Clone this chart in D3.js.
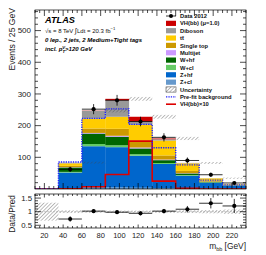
<!DOCTYPE html>
<html>
<head>
<meta charset="utf-8">
<script src="https://cdn.jsdelivr.net/npm/d3@7"></script>
<style>
  body { margin: 0; background: #fff; }
  svg text { font-family: "Liberation Sans", Arial, sans-serif; }
</style>
</head>
<body>
<svg id="chart" width="266" height="255"></svg>
<script>
// bins of 25 GeV, low edges
var binLow = [10, 35, 60, 85, 110, 135, 160, 185, 210];
var binWidth = 25;

// stacked backgrounds (events per bin), bottom to top
var zcl     = [0, 2,   5,   5,   4,   3,   2,  1,   0.5];
var zhf     = [0, 50,  130, 127, 101, 76,  40, 19,  10];
var wcl     = [0, 2,   7,   6,   5,   3,   2,  1,   0.5];
var whf     = [0, 14,  33,  27,  18,  9,   5,  2,   1];
var multijet= [0, 1,   2,   3,   3,   2,   1,  0.5, 0.3];
var stop    = [0, 4,   14,  22,  22,  13,  7,  2,   1];
var ttbar   = [0, 8,   31,  38,  50,  47,  24, 8,   2];
var diboson = [0, 2,   25,  52,  10,  4,   1,  0.5, 0.2];
var vh      = [0, 0.1, 0.7, 4.6, 15,  2.5, 0.2, 0,  0];
var uncert  = [0, 3,   6,   6,   6,   5,   3,  2,   1.5];

var prefit  = [0, 85,  223, 253, 204, 130, 76, 28,  13];
var vhx10   = [0, 0.5, 7,   46,  151, 25,  2,  0,   0];

var data    = [null, 62, 252, 280, 213, 163, 90, 45, 19];
var dataErr = [null, 8,  16,  17,  15,  13,  9.5, 6.7, 4.4];

var ratio     = [null, 0.73, 1.02, 0.98, 0.94, 1.02, 1.09, 1.31, 1.21];
var ratioErr  = [null, 0.1,  0.07, 0.06, 0.07, 0.08, 0.12, 0.19, 0.26];
var ratioBand = [0.33, 0.05, 0.04, 0.04, 0.04, 0.04, 0.05, 0.06, 0.08];

var xTicks = [20, 40, 60, 80, 100, 120, 140, 160, 180, 200, 220];
var yTicks = [100, 200, 300, 400, 500];
var rTicks = [0.5, 1, 1.5];

var layers = [
  {key: "zcl", name: "Z+cl", color: "#6699cc", values: zcl},
  {key: "zhf", name: "Z+hf", color: "#0066cc", values: zhf},
  {key: "wcl", name: "W+cl", color: "#66cc66", values: wcl},
  {key: "whf", name: "W+hf", color: "#006600", values: whf},
  {key: "mj",  name: "Multijet", color: "#cc99ff", values: multijet},
  {key: "stop", name: "Single top", color: "#cc9900", values: stop},
  {key: "tt",  name: "t\u0074\u0304", color: "#ffcc00", values: ttbar},
  {key: "db",  name: "Diboson", color: "#999999", values: diboson},
  {key: "vh",  name: "VH(bb) (\u03bc=1.0)", color: "#cc0000", values: vh}
];

var svg = d3.select("#chart");
var L = 35, R = 246, T = 10, B = 189, RT = 194, RB = 228;

var x = d3.scaleLinear().domain([10, 235]).range([L, R]);
var y = d3.scaleLinear().domain([0, 565]).range([B, T]);
var yr = d3.scaleLinear().domain([0.4, 1.65]).range([RB, RT]);

// hatch pattern
var defs = svg.append("defs");
var pat = defs.append("pattern").attr("id", "hatch").attr("patternUnits", "userSpaceOnUse")
  .attr("width", 2.6).attr("height", 2.6).attr("patternTransform", "rotate(45)");
pat.append("line").attr("x1", 0).attr("y1", 0).attr("x2", 0).attr("y2", 2.6)
  .attr("stroke", "#444").attr("stroke-width", 0.7);
defs.append("clipPath").attr("id", "clipMain").append("rect")
  .attr("x", L).attr("y", T).attr("width", R - L).attr("height", B - T);
defs.append("clipPath").attr("id", "clipRatio").append("rect")
  .attr("x", L).attr("y", RT).attr("width", R - L).attr("height", RB - RT);

// stack
var rows = binLow.map(function (b, i) {
  var r = {i: i, low: b};
  layers.forEach(function (l) { r[l.key] = l.values[i]; });
  return r;
});
var stack = d3.stack().keys(layers.map(l => l.key))(rows);

var main = svg.append("g").attr("clip-path", "url(#clipMain)");
stack.forEach(function (s, k) {
  main.append("g").selectAll("rect").data(s).join("rect")
    .attr("x", d => x(d.data.low))
    .attr("width", d => x(d.data.low + binWidth) - x(d.data.low) + 0.3)
    .attr("y", d => y(d[1]))
    .attr("height", d => Math.max(0, y(d[0]) - y(d[1])))
    .attr("fill", layers[k].color);
});

// uncertainty band on the total
var totals = stack[stack.length - 1].map(d => d[1]);
main.append("g").selectAll("rect").data(binLow).join("rect")
  .filter((d, i) => totals[i] > 0)
  .attr("x", d => x(d))
  .attr("width", d => x(d + binWidth) - x(d))
  .attr("y", (d, i) => y(totals[i] + uncert[i]))
  .attr("height", (d, i) => y(totals[i] - uncert[i]) - y(totals[i] + uncert[i]))
  .attr("fill", "url(#hatch)");

function stepPath(vals, sc) {
  var p = d3.path();
  binLow.forEach(function (b, i) {
    if (i === 0) p.moveTo(x(b), sc(vals[i]));
    else p.lineTo(x(b), sc(vals[i]));
    p.lineTo(x(b + binWidth), sc(vals[i]));
  });
  return p.toString();
}

main.append("path").attr("d", stepPath(vhx10, y)).attr("fill", "none")
  .attr("stroke", "#dd0000").attr("stroke-width", 1.6);
main.append("path").attr("d", stepPath(prefit, y)).attr("fill", "none")
  .attr("stroke", "#2222ff").attr("stroke-width", 1.4).attr("stroke-dasharray", "1.3,1.1");

// data points
var pts = binLow.map((b, i) => ({c: b + binWidth / 2, b: b, v: data[i], e: dataErr[i]})).filter(d => d.v != null);
var dg = main.append("g");
pts.forEach(function (d) {
  dg.append("line").attr("x1", x(d.b)).attr("x2", x(d.b + binWidth))
    .attr("y1", y(d.v)).attr("y2", y(d.v)).attr("stroke", "#000").attr("stroke-width", 0.8);
  dg.append("line").attr("x1", x(d.c)).attr("x2", x(d.c))
    .attr("y1", y(d.v - d.e)).attr("y2", y(d.v + d.e)).attr("stroke", "#000").attr("stroke-width", 0.8);
  dg.append("circle").attr("cx", x(d.c)).attr("cy", y(d.v)).attr("r", 2.1).attr("fill", "#000");
});

// ratio panel
var rg = svg.append("g").attr("clip-path", "url(#clipRatio)");
rg.append("g").selectAll("rect").data(binLow).join("rect")
  .attr("x", d => x(d)).attr("width", d => x(d + binWidth) - x(d))
  .attr("y", (d, i) => yr(1 + ratioBand[i]))
  .attr("height", (d, i) => yr(1 - ratioBand[i]) - yr(1 + ratioBand[i]))
  .attr("fill", "url(#hatch)");
rg.append("line").attr("x1", L).attr("x2", R).attr("y1", yr(1)).attr("y2", yr(1))
  .attr("stroke", "#aaa").attr("stroke-width", 0.6).attr("stroke-dasharray", "2,1");
binLow.forEach(function (b, i) {
  if (ratio[i] == null) return;
  var c = b + binWidth / 2;
  rg.append("line").attr("x1", x(b)).attr("x2", x(b + binWidth))
    .attr("y1", yr(ratio[i])).attr("y2", yr(ratio[i])).attr("stroke", "#000").attr("stroke-width", 0.8);
  rg.append("line").attr("x1", x(c)).attr("x2", x(c))
    .attr("y1", yr(ratio[i] - ratioErr[i])).attr("y2", yr(ratio[i] + ratioErr[i]))
    .attr("stroke", "#000").attr("stroke-width", 0.8);
  rg.append("circle").attr("cx", x(c)).attr("cy", yr(ratio[i])).attr("r", 2.1).attr("fill", "#000");
});

// frames and ticks
function frame(top, bottom, ys, yMaj, yMin, majLen, minLen) {
  var g = svg.append("g").attr("stroke", "#000").attr("stroke-width", 0.7);
  g.append("rect").attr("x", L).attr("y", top).attr("width", R - L).attr("height", bottom - top)
    .attr("fill", "none");
  d3.range(10, 236, 5).forEach(function (v) {
    var len = (v % 20 === 0) ? majLen : minLen;
    g.append("line").attr("x1", x(v)).attr("x2", x(v)).attr("y1", bottom).attr("y2", bottom - len);
    g.append("line").attr("x1", x(v)).attr("x2", x(v)).attr("y1", top).attr("y2", top + len);
  });
  yMin.forEach(function (v) {
    var len = yMaj.some(m => Math.abs(m - v) < 1e-6) ? 6 : 3;
    g.append("line").attr("x1", L).attr("x2", L + len).attr("y1", ys(v)).attr("y2", ys(v));
    g.append("line").attr("x1", R).attr("x2", R - len).attr("y1", ys(v)).attr("y2", ys(v));
  });
}
frame(T, B, y, yTicks, d3.range(20, 561, 20), 6, 3);
frame(RT, RB, yr, rTicks, d3.range(0.5, 1.61, 0.1).map(v => +v.toFixed(1)), 3.5, 2);

// tick labels
svg.append("g").selectAll("text").data(yTicks).join("text")
  .attr("x", 31).attr("y", d => y(d) + 2.8).attr("text-anchor", "end")
  .attr("font-size", 8).attr("fill", "#222").text(d => d);
svg.append("g").selectAll("text").data(rTicks).join("text")
  .attr("x", 32).attr("y", d => yr(d) + 2.8).attr("text-anchor", "end")
  .attr("font-size", 7.8).attr("fill", "#222").text(d => d);
svg.append("g").selectAll("text").data(xTicks).join("text")
  .attr("x", d => x(d)).attr("y", 238).attr("text-anchor", "middle")
  .attr("font-size", 7.5).attr("fill", "#222").text(d => d);

// axis titles
svg.append("text").attr("transform", "translate(15,8) rotate(-90)").attr("text-anchor", "end")
  .attr("font-size", 8.6).attr("fill", "#222").text("Events / 25 GeV");
svg.append("text").attr("transform", "translate(15,195) rotate(-90)").attr("text-anchor", "end")
  .attr("font-size", 8.4).attr("fill", "#222").text("Data/Pred");
var xt = svg.append("text").attr("x", R).attr("y", 249).attr("text-anchor", "end")
  .attr("font-size", 8.4).attr("fill", "#222");
xt.append("tspan").text("m");
xt.append("tspan").attr("font-size", 5.5).attr("dy", 1.5).text("bb");
xt.append("tspan").attr("dy", -1.5).text(" [GeV]");

// ATLAS labels
svg.append("text").attr("x", 45).attr("y", 23).attr("font-size", 9.2)
  .attr("font-weight", "bold").attr("font-style", "italic").text("ATLAS");
var l2 = svg.append("text").attr("x", 45).attr("y", 32.5).attr("font-size", 6).attr("fill", "#111");
l2.append("tspan").text("\u221as = 8 TeV ");
l2.append("tspan").attr("font-size", 7).text("\u222b");
l2.append("tspan").text("Ldt = 20.3 fb");
l2.append("tspan").attr("font-size", 4.2).attr("dy", -2.4).text("\u22121");
svg.append("text").attr("x", 45).attr("y", 42).attr("font-size", 6)
  .attr("font-weight", "bold").attr("font-style", "italic").text("0 lep., 2 jets, 2 Medium+Tight tags");
var l4 = svg.append("text").attr("x", 45).attr("y", 51).attr("font-size", 6)
  .attr("font-weight", "bold").attr("font-style", "italic");
l4.append("tspan").text("incl. p");
l4.append("tspan").attr("font-size", 4.2).attr("dy", -2.5).text("V");
l4.append("tspan").attr("font-size", 4.2).attr("dx", -2.6).attr("dy", 4.5).text("T");
l4.append("tspan").attr("dy", -2).text(">120 GeV");

// legend
var legend = [
  {type: "data", name: "Data 2012"},
  {type: "box", color: "#cc0000", name: "VH(bb) (\u03bc=1.0)"},
  {type: "box", color: "#999999", name: "Diboson"},
  {type: "box", color: "#ffcc00", name: "t\u0074\u0304"},
  {type: "box", color: "#cc9900", name: "Single top"},
  {type: "box", color: "#cc99ff", name: "Multijet"},
  {type: "box", color: "#006600", name: "W+hf"},
  {type: "box", color: "#66cc66", name: "W+cl"},
  {type: "box", color: "#0066cc", name: "Z+hf"},
  {type: "box", color: "#6699cc", name: "Z+cl"},
  {type: "hatch", name: "Uncertainty"},
  {type: "dash", name: "Pre-fit background"},
  {type: "line", name: "VH(bb)\u00d710"}
];
var lg = svg.append("g");
legend.forEach(function (d, i) {
  var cy = 16 + i * 7.35;
  if (d.type === "box") {
    lg.append("rect").attr("x", 166).attr("y", cy - 2.6).attr("width", 10).attr("height", 5.2).attr("fill", d.color);
  } else if (d.type === "hatch") {
    lg.append("rect").attr("x", 166).attr("y", cy - 2.6).attr("width", 10).attr("height", 5.2)
      .attr("fill", "url(#hatch)").attr("stroke", "#333").attr("stroke-width", 0.5);
  } else if (d.type === "data") {
    lg.append("line").attr("x1", 166).attr("x2", 176).attr("y1", cy).attr("y2", cy).attr("stroke", "#000").attr("stroke-width", 0.8);
    lg.append("circle").attr("cx", 171).attr("cy", cy).attr("r", 2).attr("fill", "#000");
  } else if (d.type === "dash") {
    lg.append("line").attr("x1", 166).attr("x2", 176).attr("y1", cy).attr("y2", cy)
      .attr("stroke", "#2222ff").attr("stroke-width", 1.4).attr("stroke-dasharray", "1.3,1.1");
  } else {
    lg.append("line").attr("x1", 166).attr("x2", 176).attr("y1", cy).attr("y2", cy)
      .attr("stroke", "#dd0000").attr("stroke-width", 1.6);
  }
  lg.append("text").attr("x", 180).attr("y", cy + 2.1).attr("font-size", 5.8)
    .attr("font-weight", "bold").attr("fill", "#111").text(d.name);
});
</script>
</body>
</html>
